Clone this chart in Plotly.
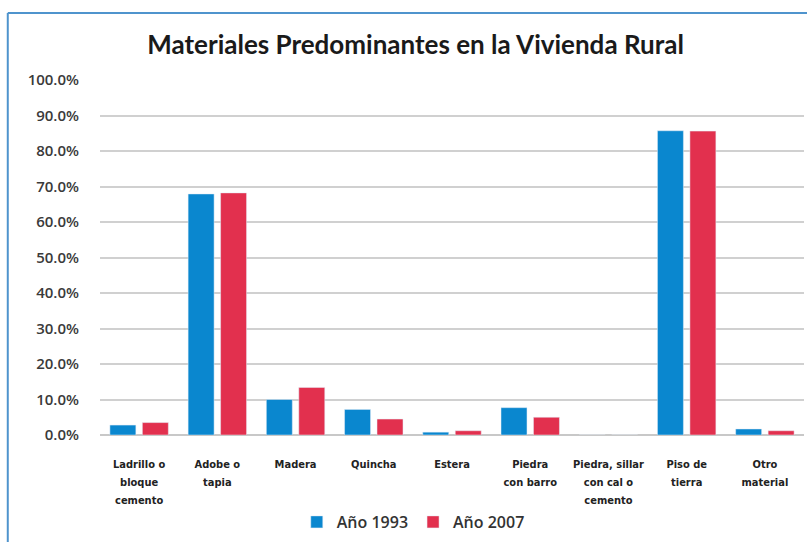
import plotly.graph_objects as go

categories = ["Ladrillo o<br>bloque<br>cemento", "Adobe o<br>tapia", "Madera", "Quincha", "Estera",
              "Piedra<br>con barro", "Piedra, sillar<br>con cal o<br>cemento", "Piso de<br>tierra", "Otro<br>material"]
anio_1993 = [0.028, 0.679, 0.100, 0.072, 0.008, 0.077, 0.0, 0.857, 0.017]
anio_2007 = [0.035, 0.682, 0.134, 0.045, 0.012, 0.050, 0.0, 0.856, 0.012]
y_ticks = [0, 0.1, 0.2, 0.3, 0.4, 0.5, 0.6, 0.7, 0.8, 0.9, 1.0]

tick_text = ["<br>".join("<span style='font-size:11px'>%s</span>" % part for part in c.split("<br>"))
             for c in categories]

fig = go.Figure()
fig.add_trace(go.Bar(x=categories, y=anio_1993, name="Año 1993", marker_color="#0a87cf"))
fig.add_trace(go.Bar(x=categories, y=anio_2007, name="Año 2007", marker_color="#e2304e"))

fig.update_layout(
    width=807, height=542,
    margin=dict(l=100, r=3, t=80, b=107),
    paper_bgcolor="white", plot_bgcolor="white",
    barmode="group", bargap=0.17, bargroupgap=0.2,
    title=dict(text="<b>Materiales Predominantes en la Vivienda Rural</b>",
               x=0.515, xanchor="center", y=0.918, yanchor="middle",
               font=dict(family="Lato", size=26, color="#1a1a1a")),
    font=dict(family="Lato", color="#333333"),
    legend=dict(orientation="h", x=0.445, xanchor="center", y=-0.245, yanchor="middle",
                font=dict(family="Open Sans", size=16, color="#333333", weight=600), itemwidth=30,
                traceorder="normal"),
    showlegend=True,
)
fig.update_yaxes(range=[0, 1.0], tickvals=y_ticks, tickformat=".1%",
                 showgrid=True, gridcolor="#d0d0d0", gridwidth=2,
                 zeroline=True, zerolinecolor="#c8c8c8", zerolinewidth=2,
                 ticks="", ticklabelstandoff=20,
                 tickfont=dict(family="Open Sans", size=15, color="#3a3a3a", weight=600))
fig.update_xaxes(showgrid=False, ticks="", ticklabelstandoff=18,
                 tickmode="array", tickvals=categories, ticktext=tick_text,
                 tickfont=dict(family="DejaVu Sans Condensed", size=14, color="#222222", weight="bold"),
                 tickangle=0)

fig.add_shape(type="line", xref="paper", yref="paper", x0=-0.131, x1=1.05, y0=1.189, y1=1.189,
              line=dict(color="#4f94cd", width=2))
fig.add_shape(type="line", xref="paper", yref="paper", x0=-0.131, x1=-0.131, y0=1.189, y1=-0.35,
              line=dict(color="#4f94cd", width=2))

fig.write_html("out.html", config={"displayModeBar": False},
               post_script="document.body.style.margin='0';document.body.style.overflow='hidden';")
